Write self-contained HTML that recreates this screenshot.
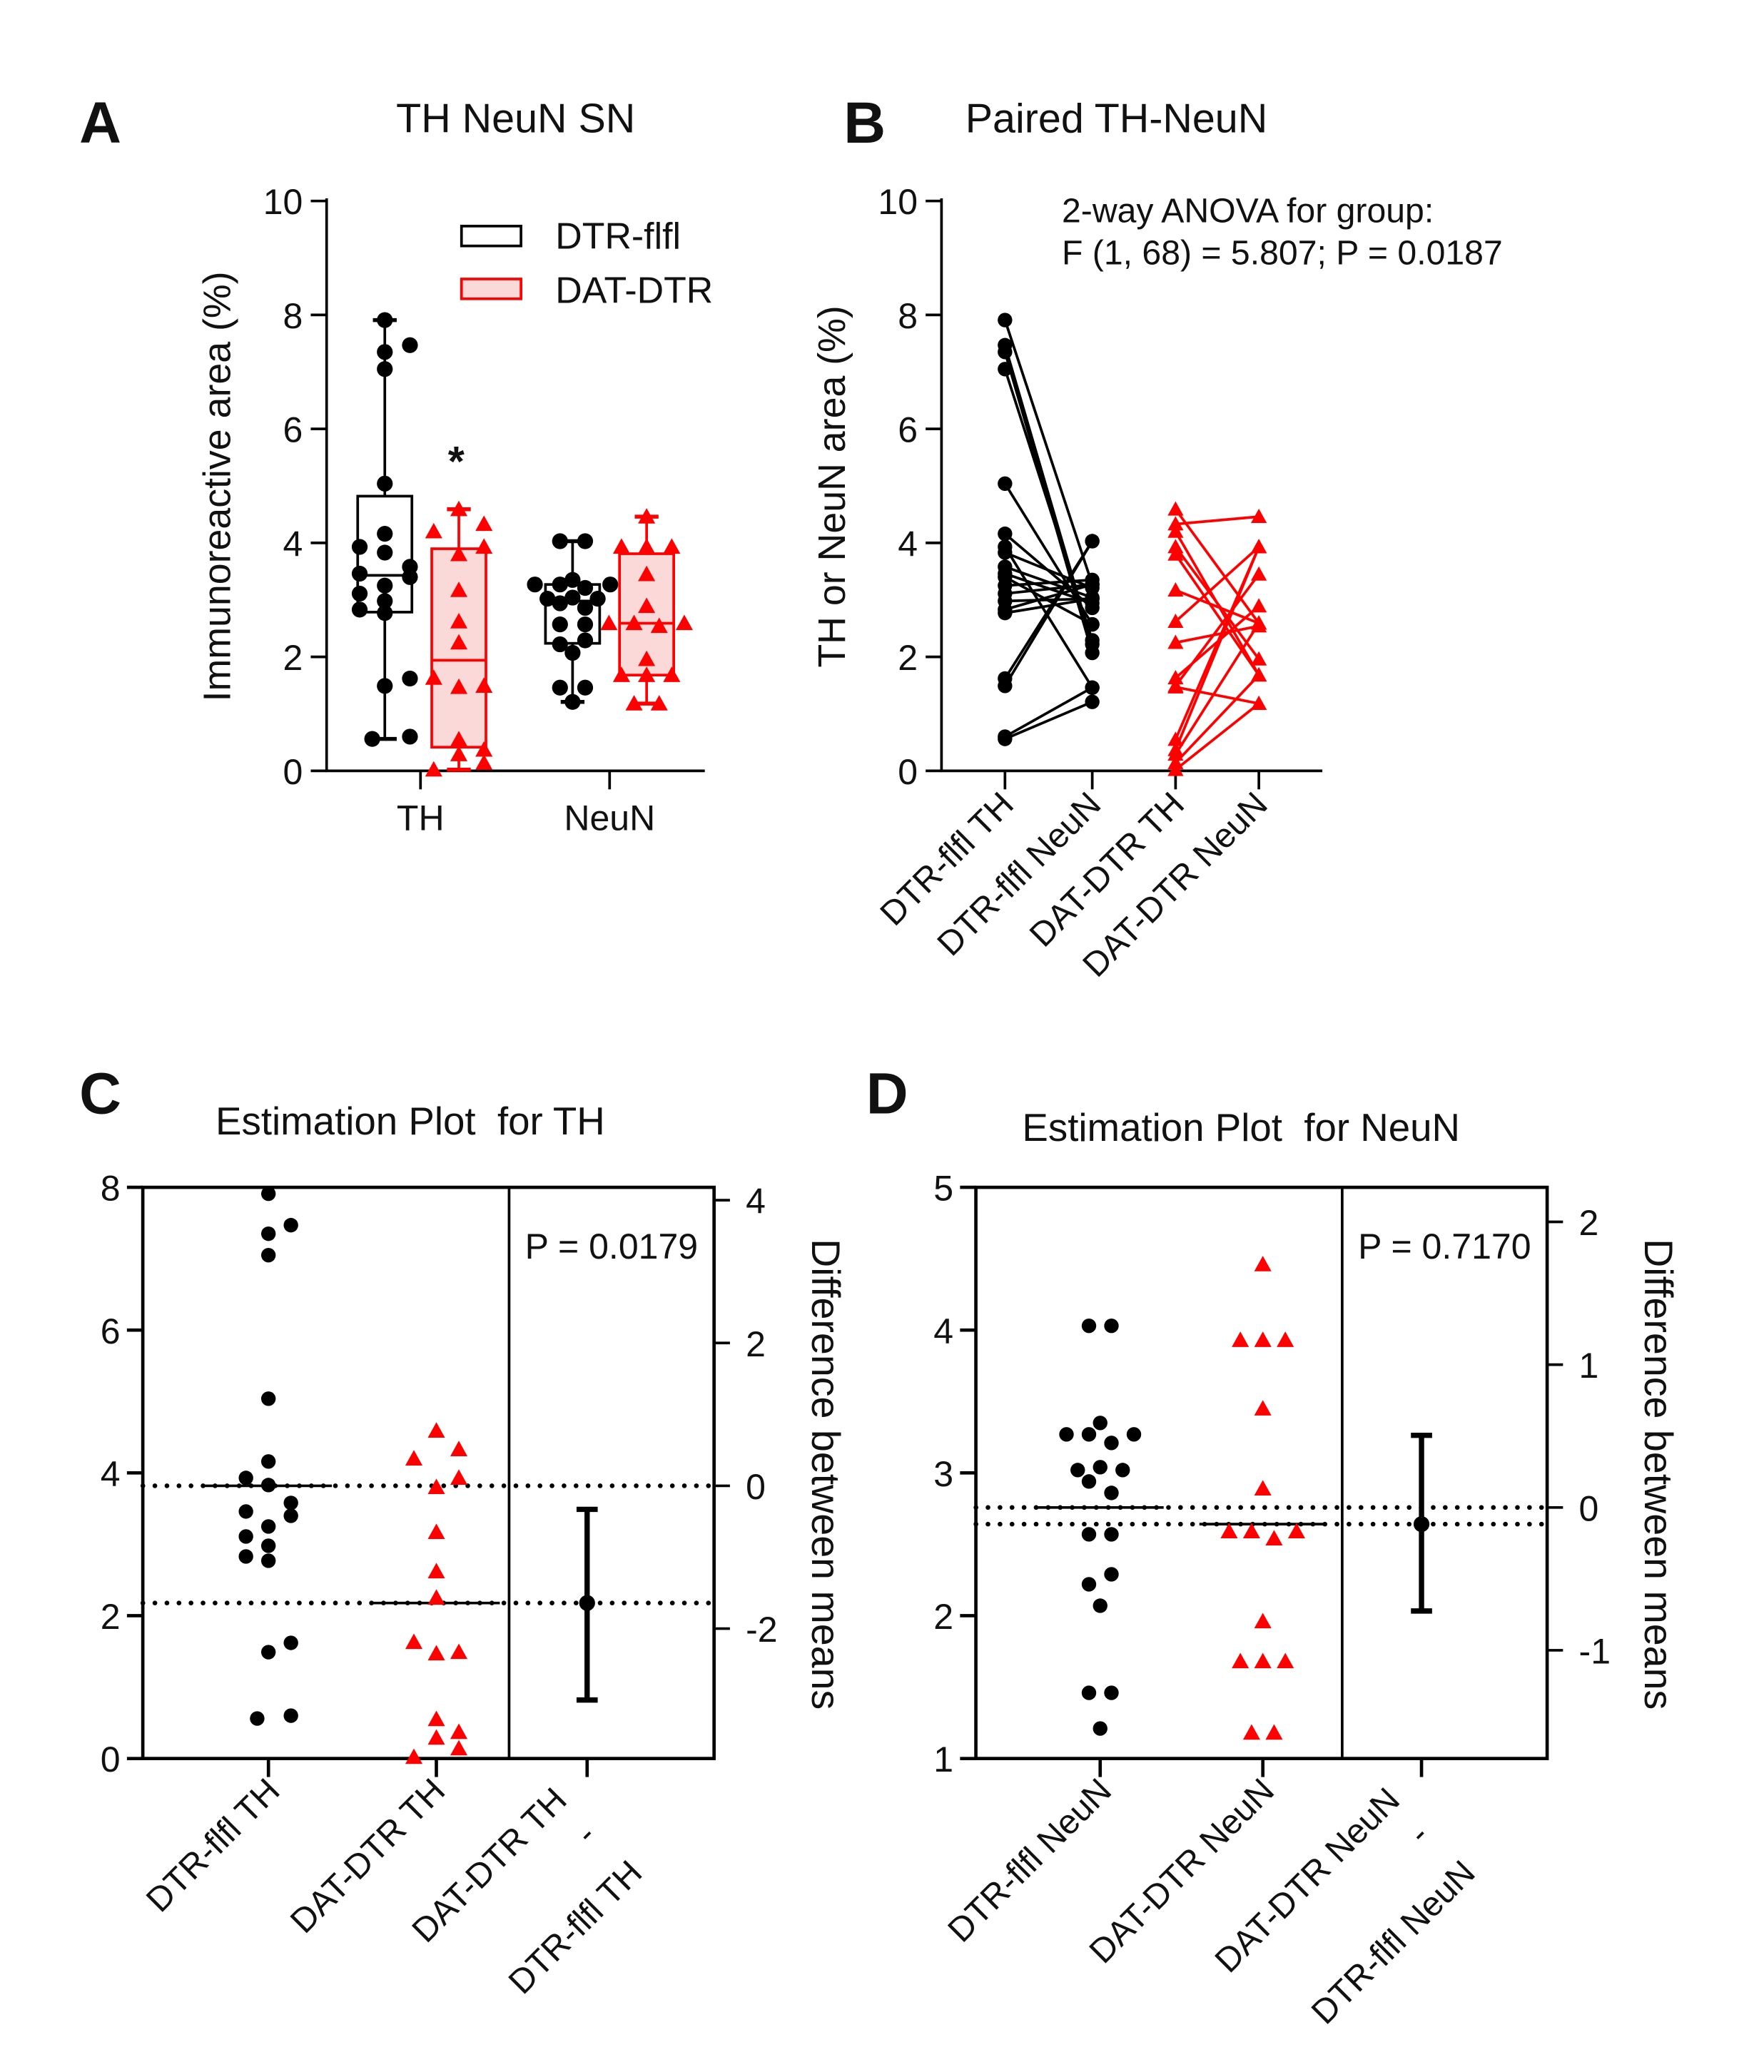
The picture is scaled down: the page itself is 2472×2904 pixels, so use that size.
<!DOCTYPE html>
<html><head><meta charset="utf-8">
<style>
html,body{margin:0;padding:0;background:#fff;}
svg{display:block;}
text{font-family:"Liberation Sans",sans-serif;fill:#111;white-space:pre;}
</style></head>
<body>
<svg id="fig" xmlns="http://www.w3.org/2000/svg" width="2472" height="2904" viewBox="0 0 1334 1567.1" preserveAspectRatio="none">
<rect x="0" y="0" width="1334" height="1568" fill="#fff"/>
<text x="60" y="108" font-size="44" font-weight="bold">A</text>
<text x="390" y="100" font-size="31" text-anchor="middle">TH NeuN SN</text>
<text x="638" y="108" font-size="44" font-weight="bold">B</text>
<text x="730" y="100" font-size="31">Paired TH-NeuN</text>
<text x="60" y="842" font-size="44" font-weight="bold">C</text>
<text x="163" y="858" font-size="29.5" xml:space="preserve">Estimation Plot  for TH</text>
<text x="655" y="842" font-size="44" font-weight="bold">D</text>
<text x="773" y="863" font-size="29.5" xml:space="preserve">Estimation Plot  for NeuN</text>
<text transform="translate(174,368) rotate(-90)" font-size="29" text-anchor="middle">Immunoreactive area (%)</text>
<text transform="translate(639,368) rotate(-90)" font-size="29" text-anchor="middle">TH or NeuN area (%)</text>
<text transform="translate(614,1115) rotate(90)" font-size="30" text-anchor="middle">Difference between means</text>
<text transform="translate(1244,1115) rotate(90)" font-size="30" text-anchor="middle">Difference between means</text>
<text x="803" y="168" font-size="26">2-way ANOVA for group:</text>
<text x="803" y="200" font-size="26">F (1, 68) = 5.807; P = 0.0187</text>
<text x="397" y="952" font-size="27">P = 0.0179</text>
<text x="1027" y="952" font-size="27">P = 0.7170</text>
<text x="345" y="360" font-size="32" text-anchor="middle" font-weight="bold">*</text>
<g>
<rect x="349" y="171" width="45" height="15" fill="#fff" stroke="#000" stroke-width="2"/>
<text x="420" y="188" font-size="28">DTR-flfl</text>
<rect x="349" y="211" width="45" height="15" fill="#fbd9d9" stroke="#f00" stroke-width="2"/>
<text x="420" y="229" font-size="28">DAT-DTR</text>
</g>
<g id="plots"></g>
</svg>
<script>
// ---- data ----
const thDtr = [7.91,7.47,7.35,7.05,5.04,4.16,3.93,3.83,3.58,3.46,3.40,3.25,3.11,2.98,2.83,2.77,1.62,1.49,0.60,0.56];
const thDtrOff = [0,1,0,0,0,0,-1,0,1,-1,1,0,-1,0,-1,0,1,0,1,-0.5];
const thDat = [4.59,4.33,4.20,3.93,3.80,3.17,2.62,2.25,1.63,1.49,1.47,0.55,0.37,0.29,0.14,0.02];
const thDatOff = [0,1,-1,1,0,0,0,0,-1,1,0,0,1,0,1,-1];
const neuDtr = [3.27,2.22,2.07,2.29,2.57,2.86,1.46,3.21,3.04,2.94,2.57,3.35,3.27,3.02,3.27,3.02,4.03,4.03,1.46,1.21];
const neuDtrOff = [-1.5,-0.5,0,0.5,-0.5,0.5,-0.5,0.5,0,-0.5,0.5,0,-0.5,-1,1.5,1,-0.5,0.5,0.5,0];
const neuDat = [2.59,4.46,1.68,1.96,1.68,2.59,3.93,2.54,2.89,3.45,1.18,3.93,3.93,2.59,1.68,1.18];
const neuDatOff = [-1.5,0,-1,0,0,-0.5,-1,0.5,0,0,-0.5,0,1,1.5,1,0.5];
const ciTH = [-0.33,-3.0];
const ciNeu = [0.505,-0.725];
const ticksA = [0,2,4,6,8,10];
const ticksCL = [0,2,4,6,8];
const ticksCR = [-2,0,2,4];
const ticksDL = [1,2,3,4,5];
const ticksDR = [-1,0,1,2];
const catsA = ["TH","NeuN"];
const catsB = ["DTR-flfl TH","DTR-flfl NeuN","DAT-DTR TH","DAT-DTR NeuN"];

const NS="http://www.w3.org/2000/svg";
const root=document.getElementById('plots');
function mk(tag,attrs,parent){const e=document.createElementNS(NS,tag);for(const k in attrs)e.setAttribute(k,attrs[k]);(parent||root).appendChild(e);return e;}
function line(x1,y1,x2,y2,c,w,extra){const a={x1,y1,x2,y2,stroke:c||'#000','stroke-width':w||2};Object.assign(a,extra||{});return mk('line',a);}
function txt(x,y,s,size,anchor,rot){const a={x,y,'font-size':size,'text-anchor':anchor||'start'};if(rot)a.transform=`rotate(${rot} ${x} ${y})`;const e=mk('text',a);e.textContent=s;return e;}
function dot(x,y,r){return mk('circle',{cx:x,cy:y,r:r||6.5,fill:'#000'});}
function tri(x,y,s){s=s||7;return mk('polygon',{points:`${x},${y-s} ${x-s},${y+s*0.8} ${x+s},${y+s*0.8}`,fill:'#f00'});}
const mean=a=>a.reduce((p,c)=>p+c,0)/a.length;
function pct(a,p){const s=[...a].sort((x,y)=>x-y);const pos=(s.length+1)*p-1;const lo=Math.max(0,Math.min(s.length-1,Math.floor(pos)));const hi=Math.min(s.length-1,lo+1);const f=Math.max(0,Math.min(1,pos-lo));return s[lo]+(s[hi]-s[lo])*f;}

// ---- Panel A ----
const yA=v=>583-v/10*431;
let e;
e=line(247,150,247,583);


e=line(246,583,533,583);


ticksA.forEach(t=>{
 e=line(235,yA(t),247,yA(t));
 
 
 e=txt(229,yA(t)+10,String(t),27,'end');
 
 
});
const xA=[318,461];
catsA.forEach((c,i)=>{
 e=line(xA[i],583,xA[i],597);
 
 
 e=txt(xA[i],628,c,27,'middle');
 
 
});
function boxplot(data,offs,cx,red,name){
 const q1=pct(data,0.25),q3=pct(data,0.75),md=pct(data,0.5),mn=Math.min(...data),mx=Math.max(...data);
 const col=red?'#f00':'#000',w=41;
 e=mk('rect',{x:cx-w/2,y:yA(q3),width:w,height:yA(q1)-yA(q3),fill:red?'#fbd9d9':'#fff',stroke:col,'stroke-width':2});
 
 
 e=line(cx-w/2,yA(md),cx+w/2,yA(md),col,2);
 
 
 e=line(cx,yA(q3),cx,yA(mx),col,2);
 
 
 e=line(cx,yA(q1),cx,yA(mn),col,2);
 
 
 e=line(cx-9,yA(mx),cx+9,yA(mx),col,3);
 
 
 e=line(cx-9,yA(mn),cx+9,yA(mn),col,3);
 
 
 data.forEach((v,i)=>{
  e=red?tri(cx+offs[i]*19,yA(v),6.5):dot(cx+offs[i]*19,yA(v),6);
  
  
 });
}
boxplot(thDtr,thDtrOff,291,false,'th-dtr-flfl');
boxplot(thDat,thDatOff,347,true,'th-dat-dtr');
boxplot(neuDtr,neuDtrOff,433,false,'neun-dtr-flfl');
boxplot(neuDat,neuDatOff,489,true,'neun-dat-dtr');

// ---- Panel B ----
const xB=[760,826,889,952];
e=line(712,150,712,583);


e=line(711,583,1000,583);


ticksA.forEach(t=>{
 e=line(700,yA(t),712,yA(t));
 
 
 e=txt(694,yA(t)+10,String(t),27,'end');
 
 
});
catsB.forEach((c,i)=>{
 e=line(xB[i],583,xB[i],597);
 
 
 e=txt(xB[i]+8,610,c,26,'end',-45);
 
 
});
function paired(a,b,x1,x2,red,name){
 const col=red?'#f00':'#000';
 a.forEach((v,i)=>{
  e=line(x1,yA(v),x2,yA(b[i]),col,2);
  
  
 });
 a.forEach(v=>{
  e=red?tri(x1,yA(v),6):dot(x1,yA(v),5.5);
  
  
 });
 b.forEach(v=>{
  e=red?tri(x2,yA(v),6):dot(x2,yA(v),5.5);
  
  
 });
}
paired(thDtr,neuDtr,xB[0],xB[1],false,'dtr-flfl');
paired(thDat,neuDat,xB[2],xB[3],true,'dat-dtr');

// ---- Estimation plots ----
function est(cfg){
 const {x0,x1,xd,top,bot,vmin,vmax,a,ao,b,bo,ci,tl,tr,xs,labels,name}=cfg;
 const sc=(bot-top)/(vmax-vmin);
 const y=v=>bot-(v-vmin)*sc;
 const m1=mean(a),m2=mean(b);
 const yr=d=>y(m1+d);
 e=mk('rect',{x:x0,y:top,width:x1-x0,height:bot-top,fill:'none',stroke:'#000','stroke-width':2.5});
 
 
 e=line(xd,top,xd,bot,'#000',2);
 
 
 tl.forEach(t=>{
  e=line(x0-12,y(t),x0,y(t),'#000',2.5);
  
  
  e=txt(x0-17,y(t)+10,String(t),27,'end');
  
  
 });
 tr.forEach(t=>{
  e=line(x1,yr(t),x1+12,yr(t),'#000',2);
  
  
  e=txt(x1+24,yr(t)+10,String(t),27,'start');
  
  
 });
 xs.forEach((xx,i)=>{
  e=line(xx,bot,xx,bot+14,'#000',2.5);
  
  
 });
 labels.forEach(L=>{
  e=txt(L[0],L[1],L[2],26,'end',-45);
  
  
 });
 [m1,m2].forEach(m=>{
  e=line(x0,y(m),x1,y(m),'#000',3.5,{'stroke-dasharray':'0.1 9','stroke-linecap':'round'});
  
  
 });
 e=line(xs[0]-48,y(m1),xs[0]+48,y(m1),'#000',2);
 
 
 e=line(xs[1]-48,y(m2),xs[1]+48,y(m2),'#000',2);
 
 
 a.forEach((v,i)=>{
  e=dot(xs[0]+ao[i]*17,y(v),5.5);
  
  
 });
 b.forEach((v,i)=>{
  e=tri(xs[1]+bo[i]*17,y(v),6.5);
  
  
 });
 e=line(xs[2],yr(ci[0]),xs[2],yr(ci[1]),'#000',4);
 
 
 e=line(xs[2]-8,yr(ci[0]),xs[2]+8,yr(ci[0]),'#000',4);
 
 
 e=line(xs[2]-8,yr(ci[1]),xs[2]+8,yr(ci[1]),'#000',4);
 
 
 e=dot(xs[2],y(m2),6);
 
 
}
est({name:'est-th',x0:108,x1:540,xd:385,top:898,bot:1330,vmin:0,vmax:8,a:thDtr,ao:thDtrOff,b:thDat,bo:thDatOff,ci:ciTH,tl:ticksCL,tr:ticksCR,xs:[203,330,444],
 labels:[[213,1356,'DTR-flfl TH'],[338,1356,'DAT-DTR TH'],[430,1363,'DAT-DTR TH'],[452,1390,'-'],[487,1418,'DTR-flfl TH']]});
est({name:'est-neun',x0:738,x1:1170,xd:1015,top:898,bot:1330,vmin:1,vmax:5,a:neuDtr,ao:neuDtrOff,b:neuDat,bo:neuDatOff,ci:ciNeu,tl:ticksDL,tr:ticksDR,xs:[832,955,1075],
 labels:[[842,1356,'DTR-flfl NeuN'],[965,1356,'DAT-DTR NeuN'],[1060,1363,'DAT-DTR NeuN'],[1082,1390,'-'],[1117,1418,'DTR-flfl NeuN']]});
</script>
</body></html>
